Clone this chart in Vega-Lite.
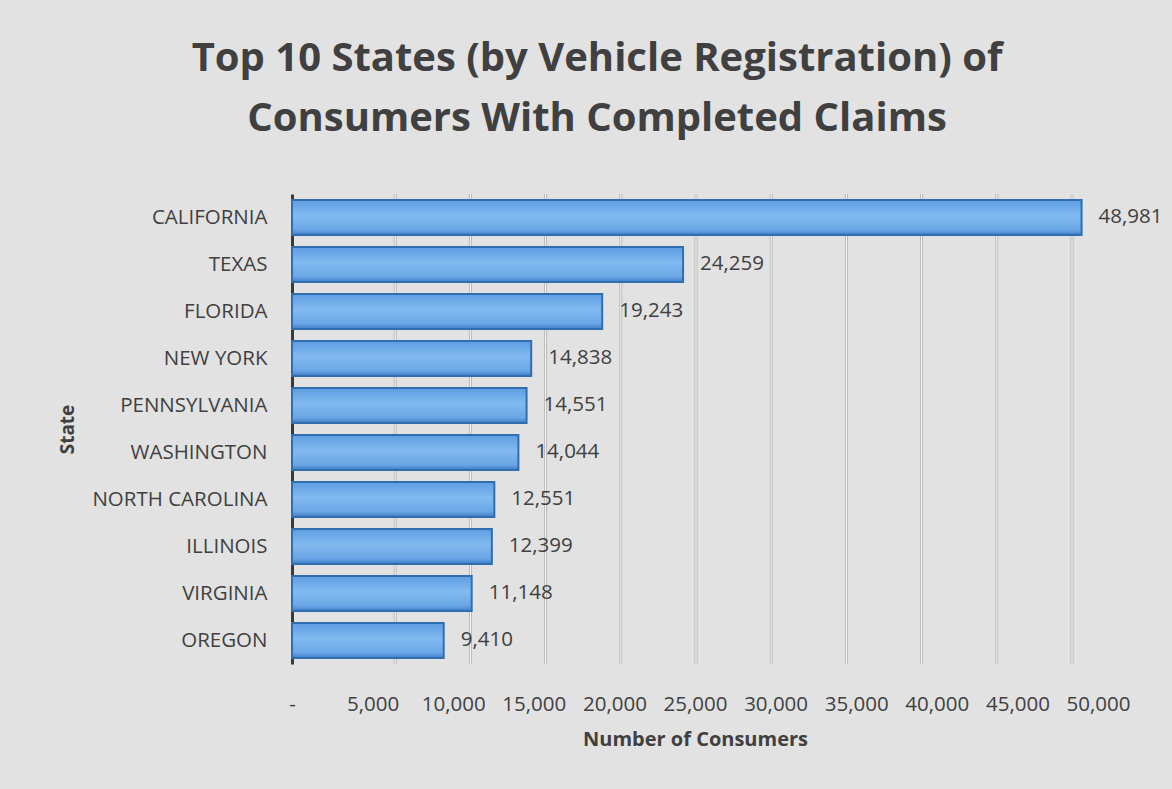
{
  "$schema": "https://vega.github.io/schema/vega-lite/v6.json",
  "autosize": "none",
  "width": 806,
  "height": 470,
  "padding": {"left": 292, "top": 194, "right": 74, "bottom": 125},
  "background": "#e2e2e2",
  "title": {
    "text": ["Top 10 States (by Vehicle Registration) of", "Consumers With Completed Claims"],
    "font": "Open Sans",
    "fontSize": 40,
    "fontWeight": "bold",
    "color": "#404040",
    "anchor": "middle",
    "dx": -98,
    "offset": 54,
    "lineHeight": 60
  },
  "datasets": {
    "claims": [
      {"State": "CALIFORNIA", "Consumers": 48981},
      {"State": "TEXAS", "Consumers": 24259},
      {"State": "FLORIDA", "Consumers": 19243},
      {"State": "NEW YORK", "Consumers": 14838},
      {"State": "PENNSYLVANIA", "Consumers": 14551},
      {"State": "WASHINGTON", "Consumers": 14044},
      {"State": "NORTH CAROLINA", "Consumers": 12551},
      {"State": "ILLINOIS", "Consumers": 12399},
      {"State": "VIRGINIA", "Consumers": 11148},
      {"State": "OREGON", "Consumers": 9410}
    ],
    "grid": [
      {"Grid": 5000}, {"Grid": 10000}, {"Grid": 15000}, {"Grid": 20000}, {"Grid": 25000},
      {"Grid": 30000}, {"Grid": 35000}, {"Grid": 40000}, {"Grid": 45000}, {"Grid": 50000}
    ]
  },
  "layer": [
    {
      "data": {"name": "grid"},
      "mark": {"type": "rule", "color": "#b8b8b8", "strokeWidth": 3},
      "encoding": {
        "x": {"field": "Grid", "type": "quantitative", "scale": {"domain": [0, 50000], "range": [28, 780], "nice": false}, "axis": null}
      }
    },
    {
      "data": {"name": "grid"},
      "mark": {"type": "rule", "color": "#f8f8f8", "strokeWidth": 1},
      "encoding": {
        "x": {"field": "Grid", "type": "quantitative", "scale": {"domain": [0, 50000], "range": [28, 780], "nice": false}, "axis": null}
      }
    },
    {
      "data": {"name": "claims"},
      "encoding": {
        "y": {
          "field": "State",
          "type": "nominal",
          "sort": null,
          "scale": {"paddingInner": 0.26, "paddingOuter": 0.13},
          "axis": {
            "title": "State",
            "titleFont": "Open Sans",
            "titleFontSize": 19,
            "titleFontWeight": "bold",
            "titleColor": "#404040",
            "titleX": -215,
            "labelFont": "Open Sans",
            "labelFontSize": 20.5,
            "labelColor": "#404040",
            "labelPadding": 25,
            "ticks": false,
            "domain": true,
            "domainColor": "#3a3a3a",
            "domainWidth": 3
          }
        },
        "x": {
          "field": "Consumers",
          "type": "quantitative",
          "scale": {"domain": [0, 50000], "nice": false},
          "axis": {
            "title": "Number of Consumers",
            "titleFont": "Open Sans",
            "titleFontSize": 20,
            "titleFontWeight": "bold",
            "titleColor": "#404040",
            "titlePadding": 15,
            "values": [0, 5000, 10000, 15000, 20000, 25000, 30000, 35000, 40000, 45000, 50000],
            "labelExpr": "datum.value == 0 ? '-' : format(datum.value, ',')",
            "labelFont": "Open Sans",
            "labelFontSize": 20.5,
            "labelColor": "#404040",
            "labelPadding": 30,
            "labelFlush": false,
            "ticks": false,
            "domain": false,
            "grid": false
          }
        }
      },
      "layer": [
        {
          "mark": {
            "type": "bar",
            "stroke": "#2f6fb0",
            "strokeWidth": 2,
            "color": {
              "gradient": "linear",
              "x1": 0, "y1": 0, "x2": 0, "y2": 1,
              "stops": [
                {"offset": 0, "color": "#5e9de2"},
                {"offset": 0.45, "color": "#82baf0"},
                {"offset": 0.85, "color": "#6aa6e6"},
                {"offset": 1, "color": "#3e7cc4"}
              ]
            }
          }
        },
        {
          "mark": {"type": "text", "align": "left", "dx": 17, "dy": -1, "font": "Open Sans", "fontSize": 20.5, "color": "#404040"},
          "encoding": {"text": {"field": "Consumers", "type": "quantitative", "format": ","}}
        }
      ]
    }
  ],
  "resolve": {"scale": {"x": "independent"}, "axis": {"x": "independent"}},
  "config": {"view": {"stroke": null}}
}
